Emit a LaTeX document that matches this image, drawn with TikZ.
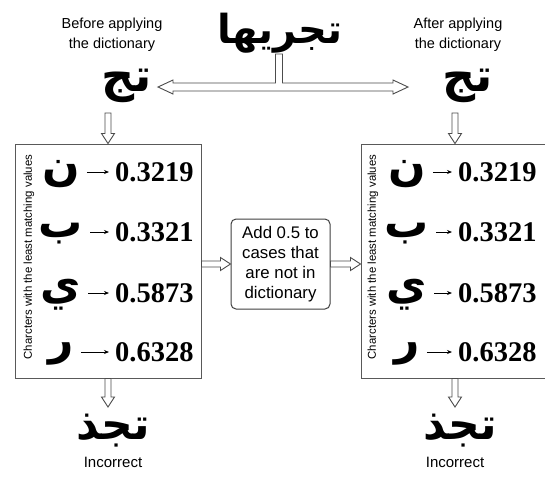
\documentclass[tikz,border=0pt]{standalone}
\usepackage{fontspec}
\setmainfont{Liberation Sans}
\newfontfamily\arabicfont[Script=Arabic]{DejaVu Sans}
\newfontfamily\numfont{Liberation Serif}
\TeXXeTstate=1
\usetikzlibrary{arrows.meta,calc}
\newcommand\flexdown[2]{%
  \draw[flex] let \p1=(#1), \p2=(#2) in
    (\x2-3pt,\y1) -- (\x2-3pt,\y2+10pt) -- (\x2-6.5pt,\y2+10pt) -- (\x2,\y2)
    -- (\x2+6.5pt,\y2+10pt) -- (\x2+3pt,\y2+10pt) -- (\x2+3pt,\y1) -- cycle;}
\newcommand\flexright[2]{%
  \draw[flex] let \p1=(#1), \p2=(#2) in
    (\x1,\y2+3pt) -- (\x2-10pt,\y2+3pt) -- (\x2-10pt,\y2+6.5pt) -- (\x2,\y2)
    -- (\x2-10pt,\y2-6.5pt) -- (\x2-10pt,\y2-3pt) -- (\x1,\y2-3pt) -- cycle;}
\begin{document}
\begin{tikzpicture}[x=1pt,y=-1pt,
  lbl/.style={font=\fontsize{14.5}{20}\selectfont, align=center, inner sep=0pt},
  arword/.style={inner sep=0pt, font=\arabicfont\bfseries\fontsize{#1}{#1}\selectfont},
  flex/.style={draw=black!70, fill=white, line width=0.9pt, line join=miter},
  panel/.style={draw=black!65, line width=1pt, minimum width=186pt, minimum height=234pt, inner sep=0pt},
  midbox/.style={draw=black!75, rounded corners=5pt, line width=1pt, minimum width=99pt,
    minimum height=90pt, align=center, font=\fontsize{16.8}{20}\selectfont, inner sep=0pt},
  num/.style={font=\numfont\bfseries\fontsize{28.5}{28.5}\selectfont, anchor=west, inner sep=1pt},
  letter/.style={inner sep=1pt, font=\arabicfont\bfseries\fontsize{44}{44}\selectfont},
  side/.style={rotate=90, font=\fontsize{11.4}{12}\selectfont, inner sep=0pt},
  tiny/.style={-{Stealth[length=5pt,width=4pt]}, line width=0.8pt, shorten <=6pt, shorten >=5pt}
]
\clip (0,0) rectangle (545,491);
\fill[white] (0,0) rectangle (545,491);

% top labels
\node[lbl] (before) at (112,35) {Before applying\\the dictionary};
\node[lbl] (after) at (458,35) {After applying\\the dictionary};
\node[arword=40] (top) at (280,33) {\beginR تجريها\endR};
\node[arword=46] (tjL) at (127,86) {\beginR تج\endR};
\node[arword=46] (tjR) at (468,86) {\beginR تج\endR};

% panels
\node[panel] (boxL) at (108,261) {};
\node[panel, minimum width=188pt] (boxR) at (455,261) {};
\node[midbox] (mid) at (280.5,264) {Add 0.5 to\\cases that\\are not in\\dictionary};

\node[side] (sideL) at (29,257) {Charcters with the least matching values};
\node[side] (sideR) at (373,257) {Charcters with the least matching values};

% rows
\foreach \i/\y/\ch/\v in {1/172/ن/0.3219, 2/232/ب/0.3321, 3/293/ي/0.5873, 4/352/ر/0.6328} {
  \node[letter] (lL\i) at (61,\y+2) {\beginR\ch\endR};
  \node[num] (nL\i) at (114,\y) {\v};
  \draw[tiny] (lL\i.east |- nL\i.west) -- (nL\i.west);
  \node[letter] (lR\i) at (407,\y+2) {\beginR\ch\endR};
  \node[num] (nR\i) at (457,\y) {\v};
  \draw[tiny] (lR\i.east |- nR\i.west) -- (nR\i.west);
}

% bottom
\node[arword=44] (botL) at (113,431) {\beginR تجذ\endR};
\node[arword=44] (botR) at (460,431) {\beginR تجذ\endR};
\node[font=\fontsize{15}{18}\selectfont, inner sep=0pt] (incL) at (113,462) {Incorrect};
\node[font=\fontsize{15}{18}\selectfont, inner sep=0pt] (incR) at (455,462) {Incorrect};

% T-shaped split arrow from the top word to both short words
\coordinate (stem) at (279,54);
\coordinate (tipL) at (158,87);
\coordinate (tipR) at (408,87);
\draw[flex] let \p1=(stem), \p2=(tipL), \p3=(tipR) in
  (\x1-3.5pt,\y1) -- (\x1-3.5pt,\y2+4pt) -- (\x2+15pt,\y2+4pt) -- (\x2+15pt,\y2+7pt) -- (\x2,\y2)
  -- (\x2+15pt,\y2-7pt) -- (\x2+15pt,\y2-4pt) -- (\x3-15pt,\y2-4pt) -- (\x3-15pt,\y2-7pt)
  -- (\x3,\y2) -- (\x3-15pt,\y2+7pt) -- (\x3-15pt,\y2+4pt) -- (\x1+3.5pt,\y2+4pt) -- (\x1+3.5pt,\y1) -- cycle;

% vertical arrows
\coordinate (dL1) at (108,113);
\coordinate (dR1) at (455,113);
\flexdown{dL1}{boxL.north}
\flexdown{dR1}{boxR.north}
\coordinate (eL) at (108,407);
\coordinate (eR) at (455,407);
\draw[flex] let \p1=(boxL.south), \p2=(eL) in
    (\x2-3pt,\y1) -- (\x2-3pt,\y2+10pt) -- (\x2-6.5pt,\y2+10pt) -- (\x2,\y2)
    -- (\x2+6.5pt,\y2+10pt) -- (\x2+3pt,\y2+10pt) -- (\x2+3pt,\y1) -- cycle;
\draw[flex] let \p1=(boxR.south), \p2=(eR) in
    (\x2-3pt,\y1) -- (\x2-3pt,\y2+10pt) -- (\x2-6.5pt,\y2+10pt) -- (\x2,\y2)
    -- (\x2+6.5pt,\y2+10pt) -- (\x2+3pt,\y2+10pt) -- (\x2+3pt,\y1) -- cycle;

% horizontal arrows through the middle box
\flexright{boxL.east}{mid.west}
\flexright{mid.east}{boxR.west |- mid.east}
\end{tikzpicture}
\end{document}
